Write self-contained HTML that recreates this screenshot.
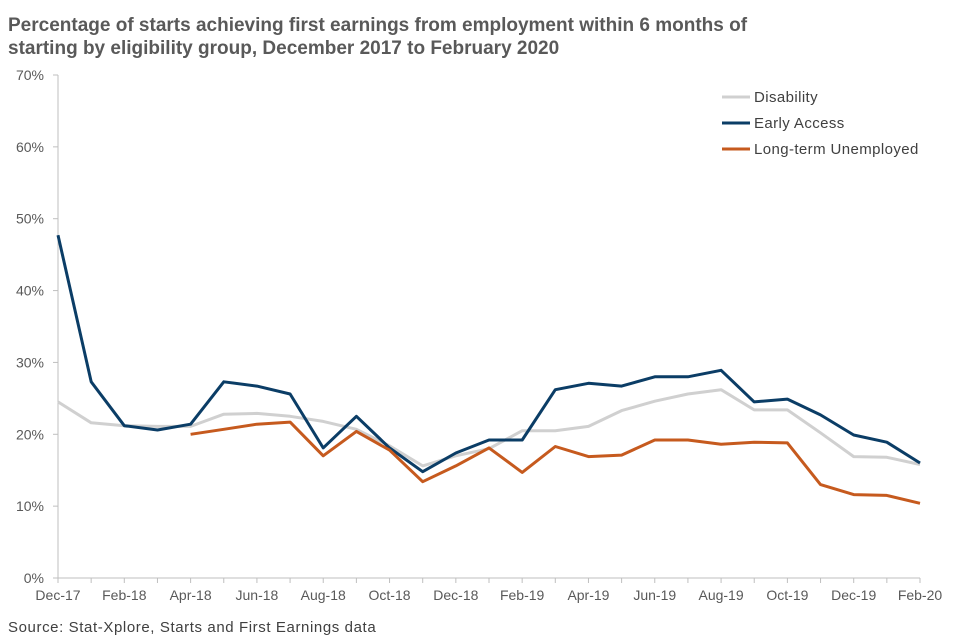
<!DOCTYPE html>
<html><head><meta charset="utf-8"><style>
body{margin:0;background:#fff;font-family:"Liberation Sans",Arial,sans-serif;}
svg{display:block}
</style></head><body>
<svg id="chart" width="960" height="640">
<text x="8" y="31" font-size="19" font-weight="bold" fill="#595959">Percentage of starts achieving first earnings from employment within 6 months of</text>
<text x="8" y="54" font-size="19" font-weight="bold" fill="#595959">starting by eligibility group, December 2017 to February 2020</text>
<text x="8" y="632" font-size="15" letter-spacing="0.6" fill="#404040">Source: Stat-Xplore, Starts and First Earnings data</text>
<g id="axes"></g><g id="series"></g>
<g>
<line x1="722" y1="97" x2="750" y2="97" stroke="#d0d0d0" stroke-width="3"/>
<text x="754" y="102" font-size="15" letter-spacing="0.4" fill="#404040">Disability</text>
<line x1="722" y1="123" x2="750" y2="123" stroke="#0b3d66" stroke-width="3"/>
<text x="754" y="128" font-size="15" letter-spacing="0.4" fill="#404040">Early Access</text>
<line x1="722" y1="149" x2="750" y2="149" stroke="#c65a1e" stroke-width="3"/>
<text x="754" y="154" font-size="15" letter-spacing="0.4" fill="#404040">Long-term Unemployed</text>
</g>
</svg>
<script>
const months = ["Dec-17","Jan-18","Feb-18","Mar-18","Apr-18","May-18","Jun-18","Jul-18","Aug-18","Sep-18","Oct-18","Nov-18","Dec-18","Jan-19","Feb-19","Mar-19","Apr-19","May-19","Jun-19","Jul-19","Aug-19","Sep-19","Oct-19","Nov-19","Dec-19","Jan-20","Feb-20"];
const disability = [24.5,21.6,21.2,21.1,21.1,22.8,22.9,22.5,21.8,20.7,18.4,15.6,17.0,18.0,20.5,20.5,21.1,23.3,24.6,25.6,26.2,23.4,23.4,20.2,16.9,16.8,15.8];
const earlyAccess = [47.7,27.3,21.2,20.6,21.4,27.3,26.7,25.6,18.1,22.5,18.1,14.8,17.4,19.2,19.2,26.2,27.1,26.7,28.0,28.0,28.9,24.5,24.9,22.7,19.9,18.9,16.0];
const longTerm = [null,null,null,null,20.0,20.7,21.4,21.7,17.0,20.4,17.8,13.4,15.6,18.1,14.7,18.3,16.9,17.1,19.2,19.2,18.6,18.9,18.8,13.0,11.6,11.5,10.4];
const yTicks = [0,10,20,30,40,50,60,70];
const ns="http://www.w3.org/2000/svg";
const X0=58,X1=920,Y0=578,Y1=75;
const xs=i=>X0+(X1-X0)*i/(months.length-1);
const ys=v=>Y0-(Y0-Y1)*v/70;
function mk(t,a,p){const e=document.createElementNS(ns,t);for(const k in a)e.setAttribute(k,a[k]);p.appendChild(e);return e;}
const ax=document.getElementById('axes');
const yl=mk('line',{x1:X0,y1:Y0,x2:X0,y2:Y1,stroke:'#bfbfbf'},ax);


const xl=mk('line',{x1:X0,y1:Y0,x2:X1,y2:Y0,stroke:'#bfbfbf'},ax);


yTicks.forEach(v=>{
  mk('line',{x1:X0-5,y1:ys(v),x2:X0,y2:ys(v),stroke:'#bfbfbf'},ax);
  const t=mk('text',{x:X0-14,y:ys(v)+5,'font-size':14,fill:'#595959','text-anchor':'end'},ax);
  t.textContent=v+'%';
  
  
});
months.forEach((m,i)=>{
  mk('line',{x1:xs(i),y1:Y0,x2:xs(i),y2:Y0+5,stroke:'#bfbfbf'},ax);
  if(i%2===0){
    const t=mk('text',{x:xs(i),y:Y0+22,'font-size':14,fill:'#595959','text-anchor':'middle'},ax);
    t.textContent=m;
    
    
  }
});
const sg=document.getElementById('series');
function line(data,color,name){
  let d='',pen=false;
  data.forEach((v,i)=>{if(v===null){pen=false;return;}d+=(pen?'L':'M')+xs(i).toFixed(1)+' '+ys(v).toFixed(1);pen=true;});
  const p=mk('path',{d:d,fill:'none',stroke:color,'stroke-width':3,'stroke-linejoin':'round'},sg);
  
  
}
line(disability,'#d0d0d0','series-disability');
line(earlyAccess,'#0b3d66','series-early-access');
line(longTerm,'#c65a1e','series-long-term-unemployed');
</script>
</body></html>
